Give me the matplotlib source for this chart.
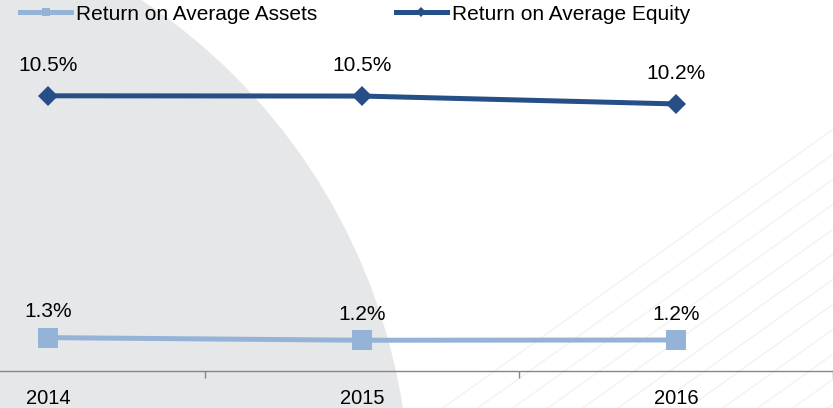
import matplotlib
matplotlib.use("Agg")
from matplotlib import pyplot as plt
from matplotlib.patches import Circle
from matplotlib.lines import Line2D

years = ["2014", "2015", "2016"]
roa = [1.27, 1.17, 1.18]
roe = [10.47, 10.46, 10.16]
roa_labels = ["1.3%", "1.2%", "1.2%"]
roe_labels = ["10.5%", "10.5%", "10.2%"]

ROA_COLOR = "#95B3D7"
ROE_COLOR = "#264F87"

plt.rcParams["font.family"] = ["Liberation Sans", "DejaVu Sans"]


def main():
    W, H = 833, 408
    fig = plt.figure(figsize=(W / 100, H / 100), dpi=100)

    # faint globe watermark behind the chart
    bg = fig.add_axes([0, 0, 1, 1], zorder=0)
    bg.set_xlim(0, W)
    bg.set_ylim(H, 0)
    bg.axis("off")
    bg.add_patch(Circle((-190, 500), 600, color="#e6e7e9", lw=0))
    for k in range(12):
        x0 = 440 + k * 35
        bg.plot([x0, x0 + 420], [410, 110], color="#f1f1f1", lw=0.9)

    # axes stretched past the left edge (chart is cropped in the source)
    left = -109 / W
    ax = fig.add_axes([left, 37 / H, 942 / W, 368 / H], zorder=1)
    ax.patch.set_alpha(0)
    x = list(range(len(years)))

    ax.plot(x, roa, color=ROA_COLOR, lw=3.6, marker="s", ms=14.4,
            mew=0, solid_capstyle="butt")
    ax.plot(x, roe, color=ROE_COLOR, lw=3.6, marker="D", ms=10.2,
            mew=0, solid_capstyle="butt")

    for i in x:
        ax.annotate(roe_labels[i], (i, roe[i]), xytext=(0, 22),
                    textcoords="offset points", ha="center", va="center",
                    fontsize=15)
        ax.annotate(roa_labels[i], (i, roa[i]), xytext=(0, 18.5),
                    textcoords="offset points", ha="center", va="center",
                    fontsize=15)

    ax.set_xlim(-0.5, 2.5)
    ax.set_ylim(0, 14)
    for s in ["left", "right", "top"]:
        ax.spines[s].set_visible(False)
    ax.spines["bottom"].set_color("#868686")
    ax.spines["bottom"].set_linewidth(1.0)
    ax.set_yticks([])
    ax.set_xticks([-0.5, 0.5, 1.5, 2.5])
    ax.set_xticklabels([])
    ax.tick_params(axis="x", which="major", length=5, width=1,
                   color="#868686", direction="out")
    ax.set_xticks(x, minor=True)
    ax.set_xticklabels(years, minor=True, fontsize=14.5)
    ax.tick_params(axis="x", which="minor", length=0, pad=13)

    handles = [
        Line2D([], [], color=ROA_COLOR, lw=3.6, marker="s", ms=6, mew=0),
        Line2D([], [], color=ROE_COLOR, lw=3.6, marker="D", ms=5, mew=0),
    ]
    fig.legend(handles, ["Return on Average Assets", "Return on Average Equity"],
               loc="center left", bbox_to_anchor=(20 / W, 1 - 14 / H),
               ncol=2, frameon=False, fontsize=15, handlelength=2.45,
               handletextpad=0.25, columnspacing=3.75, borderpad=0,
               borderaxespad=0)

    fig.savefig("out.png", dpi=100)


if __name__ == '__main__':
    main()
